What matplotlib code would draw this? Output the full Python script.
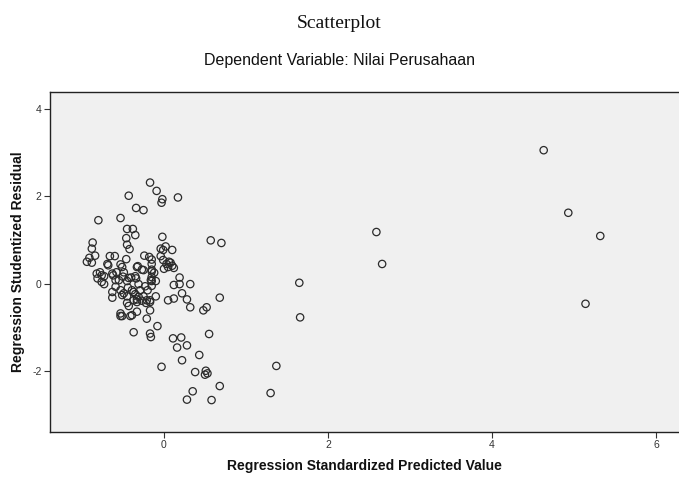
import matplotlib
matplotlib.use("Agg")
import matplotlib.pyplot as plt

plt.rcParams["axes.unicode_minus"] = False

# Regression Standardized Predicted Value / Studentized Residual pairs
pred_x = [
    -0.17, -0.09, -0.02, -0.03, 0.17, -0.43, -0.34, -0.25, -0.80, -0.53,
    -0.45, -0.38, -0.35, -0.02, -0.46, 0.57, 0.70, -0.87,
    -0.45, -0.42, -0.88, -0.84, -0.91, -0.94, -0.88, -0.66, -0.60, -0.69,
    -0.53, -0.51, -0.46, -0.24, -0.18, -0.04, 0.02, 0.10, -0.01, -0.04,
    -0.01, 0.03, 0.08, 0.05, 0.10, 0.12, 0.00, 0.06, -0.32, -0.25,
    -0.15, -0.33, -0.27, -0.15, -0.12, -0.68, -0.15, -0.15,
    -0.78, -0.76, -0.82, -0.76, -0.73, -0.81, -0.73, -0.58, -0.62, -0.63,
    -0.55, -0.59, -0.59, -0.50, -0.49, -0.44, -0.45, -0.40, -0.43, -0.35,
    -0.34, -0.15, -0.16, -0.10, -0.31, -0.23, -0.29, -0.25, -0.20, -0.33,
    -0.37, -0.39, -0.35, -0.31, -0.27, -0.21, -0.17, -0.33, -0.45, -0.37,
    -0.17, -0.10, -0.22, -0.63, -0.45, -0.43, -0.49, -0.63, -0.53, -0.51,
    -0.15, -0.15,
    -0.53, -0.53, -0.51, -0.41, -0.39, -0.33, -0.21, -0.08, -0.37, -0.17,
    -0.16, -0.17,
    0.19, 0.12, 0.19, 0.32, 0.05, 0.12, 0.22, 0.28, 0.32, 0.48,
    0.52, 0.68, 0.55, 0.11, 0.21, 0.16, 0.28, 0.43, 0.22, -0.03,
    0.38, 0.51, 0.53, 0.50, 0.68, 0.35, 0.28, 0.58,
    1.65, 1.66, 1.37, 1.30, 2.59, 2.66, 4.63, 4.93, 5.32, 5.14,
]
resid_y = [
    2.31, 2.12, 1.93, 1.85, 1.97, 2.01, 1.73, 1.68, 1.45, 1.50,
    1.25, 1.25, 1.11, 1.07, 1.04, 0.99, 0.93, 0.94,
    0.89, 0.79, 0.80, 0.64, 0.59, 0.50, 0.48, 0.63, 0.63, 0.45,
    0.44, 0.38, 0.56, 0.64, 0.61, 0.80, 0.85, 0.77, 0.77, 0.63,
    0.54, 0.45, 0.48, 0.38, 0.41, 0.36, 0.34, 0.50, 0.40, 0.31,
    0.32, 0.38, 0.32, 0.28, 0.25, 0.42, 0.55, 0.45,
    0.26, 0.19, 0.23, 0.04, 0.17, 0.12, -0.01, 0.26, 0.19, 0.23,
    0.08, 0.08, -0.07, 0.16, 0.26, -0.09, 0.06, 0.14, 0.13, 0.17,
    0.12, 0.06, 0.08, 0.06, -0.01, -0.06, -0.15, -0.29, -0.15, -0.36,
    -0.19, -0.15, -0.24, -0.30, -0.39, -0.38, -0.42, -0.42, -0.29, -0.38,
    -0.38, -0.29, -0.44, -0.32, -0.44, -0.51, -0.22, -0.19, -0.15, -0.26,
    -0.05, 0.15,
    -0.68, -0.74, -0.74, -0.74, -0.72, -0.64, -0.80, -0.97, -1.11, -1.14,
    -1.22, -0.61,
    0.14, -0.03, -0.01, -0.01, -0.38, -0.34, -0.22, -0.36, -0.54, -0.61,
    -0.54, -0.32, -1.15, -1.25, -1.23, -1.46, -1.41, -1.63, -1.75, -1.90,
    -2.02, -1.99, -2.05, -2.08, -2.34, -2.46, -2.65, -2.66,
    0.02, -0.77, -1.88, -2.50, 1.18, 0.45, 3.05, 1.62, 1.09, -0.46,
]
x_ticks = [0, 2, 4, 6]
y_ticks = [-2, 0, 2, 4]

W, H = 679, 479
fig = plt.figure(figsize=(W / 100, H / 100), dpi=100)
ax = fig.add_axes([50 / W, (H - 432) / H, 629 / W, 340 / H])
ax.set_facecolor("#f0f0f0")

ax.scatter(pred_x, resid_y, s=28, facecolors="none", edgecolors="#2b2b2b", linewidths=0.9)

ax.set_xlim(-1.39, 6.28)
ax.set_ylim(-3.39, 4.38)
ax.set_xticks(x_ticks)
ax.set_yticks(y_ticks)
ax.tick_params(direction="out", length=4, width=0.8, color="#333333",
               labelsize=7.5, labelcolor="#333333", pad=2)
for lbl in ax.get_xticklabels() + ax.get_yticklabels():
    lbl.set_family("Liberation Sans")

for side in ["left", "top", "bottom"]:
    ax.spines[side].set_color("#222222")
    ax.spines[side].set_linewidth(1.0)
ax.spines["right"].set_visible(False)

ax.set_xlabel("Regression Standardized Predicted Value", family="Liberation Sans",
              fontweight="bold", fontsize=10, color="#111111", labelpad=6)
ax.set_ylabel("Regression Studentized Residual", family="Liberation Sans",
              fontweight="bold", fontsize=10, color="#111111", labelpad=5)

fig.text(0.5, 1 - 23 / H, "Scatterplot", family="Liberation Serif", fontsize=14,
         ha="center", va="center", color="#111111")
fig.text(0.5, 1 - 61 / H, "Dependent Variable: Nilai Perusahaan", family="Liberation Sans",
         fontsize=11.5, ha="center", va="center", color="#111111")

fig.savefig("out.png", dpi=100)
